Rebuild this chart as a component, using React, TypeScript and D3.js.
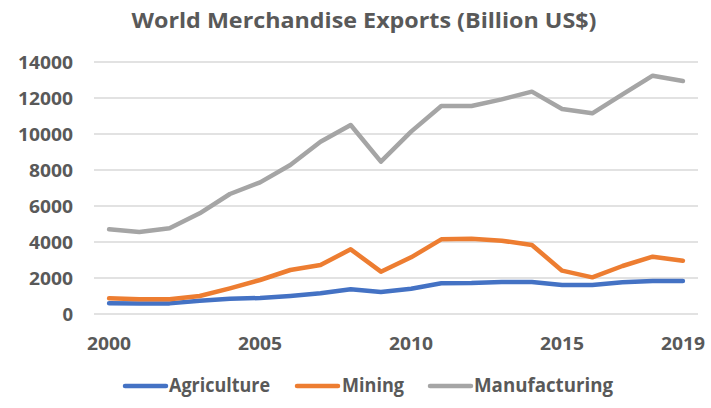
import React from "react";
import * as d3 from "d3";

const years = d3.range(2000, 2020);
const agriculture = [593, 580, 590, 740, 852, 889, 1000, 1148, 1370, 1222, 1407, 1704, 1722, 1778, 1778, 1611, 1611, 1760, 1833, 1833];
const mining = [870, 815, 815, 1000, 1426, 1889, 2444, 2722, 3593, 2352, 3148, 4148, 4185, 4074, 3833, 2407, 2037, 2667, 3185, 2963];
const manufacturing = [4705, 4555, 4760, 5592, 6667, 7315, 8278, 9574, 10500, 8463, 10130, 11556, 11556, 11926, 12352, 11389, 11148, 12200, 13240, 12944];
const yTicks = [0, 2000, 4000, 6000, 8000, 10000, 12000, 14000];
const xTickLabels = [2000, 2005, 2010, 2015, 2019];
const seriesNames = ["Agriculture", "Mining", "Manufacturing"];
const colors = ["#4472C4", "#ED7D31", "#A5A5A5"];

const W = 711, H = 408;
const FONT = "'Open Sans', sans-serif";
const TXT = "#595959";

export default function App() {
  const x = d3.scaleBand<number>().domain(years).range([94, 698]);
  const y = d3.scaleLinear().domain([0, 14000]).range([314, 62]);
  const cx = (yr: number) => (x(yr) as number) + x.bandwidth() / 2;
  const line = d3.line<number>().x((_, i) => cx(years[i])).y((v) => y(v));
  const data = [agriculture, mining, manufacturing];
  const legend = [
    { x0: 125, x1: 166, tx: 169, tw: 101 },
    { x0: 297, x1: 338, tx: 342, tw: 62 },
    { x0: 430, x1: 471, tx: 474, tw: 139 },
  ];
  return (
    <svg width={W} height={H} style={{ position: "absolute", left: 0, top: 0, background: "#fff" }}>
      <text x={364} y={28} textAnchor="middle" fontFamily={FONT} fontWeight={700} fontSize={21} fill={TXT}
        textLength={465} lengthAdjust="spacingAndGlyphs">World Merchandise Exports (Billion US$)</text>
      {yTicks.map((t) => (
        <g key={t}>
          <line x1={94} x2={698} y1={y(t)} y2={y(t)} stroke="#D9D9D9" strokeWidth={1.5} />
          <text x={73} y={y(t) + 6.5} textAnchor="end" fontFamily={FONT} fontWeight={700} fontSize={18.5} fill={TXT}
            textLength={t === 0 ? undefined : String(t).length * 11} lengthAdjust="spacingAndGlyphs">{t}</text>
        </g>
      ))}
      {xTickLabels.map((t) => (
        <text key={t} x={cx(t)} y={350} textAnchor="middle" fontFamily={FONT} fontWeight={700} fontSize={18.5} fill={TXT}
          textLength={44} lengthAdjust="spacingAndGlyphs">{t}</text>
      ))}
      {data.map((d, i) => (
        <path key={i} d={line(d) as string} fill="none" stroke={colors[i]} strokeWidth={4.5}
          strokeLinejoin="round" strokeLinecap="round" />
      ))}
      {seriesNames.map((n, i) => (
        <g key={n}>
          <line x1={legend[i].x0} x2={legend[i].x1} y1={386} y2={386} stroke={colors[i]} strokeWidth={4.5} strokeLinecap="round" />
          <text x={legend[i].tx} y={392} fontFamily={FONT} fontWeight={700} fontSize={19} fill={TXT}
            textLength={legend[i].tw} lengthAdjust="spacingAndGlyphs">{n}</text>
        </g>
      ))}
    </svg>
  );
}
